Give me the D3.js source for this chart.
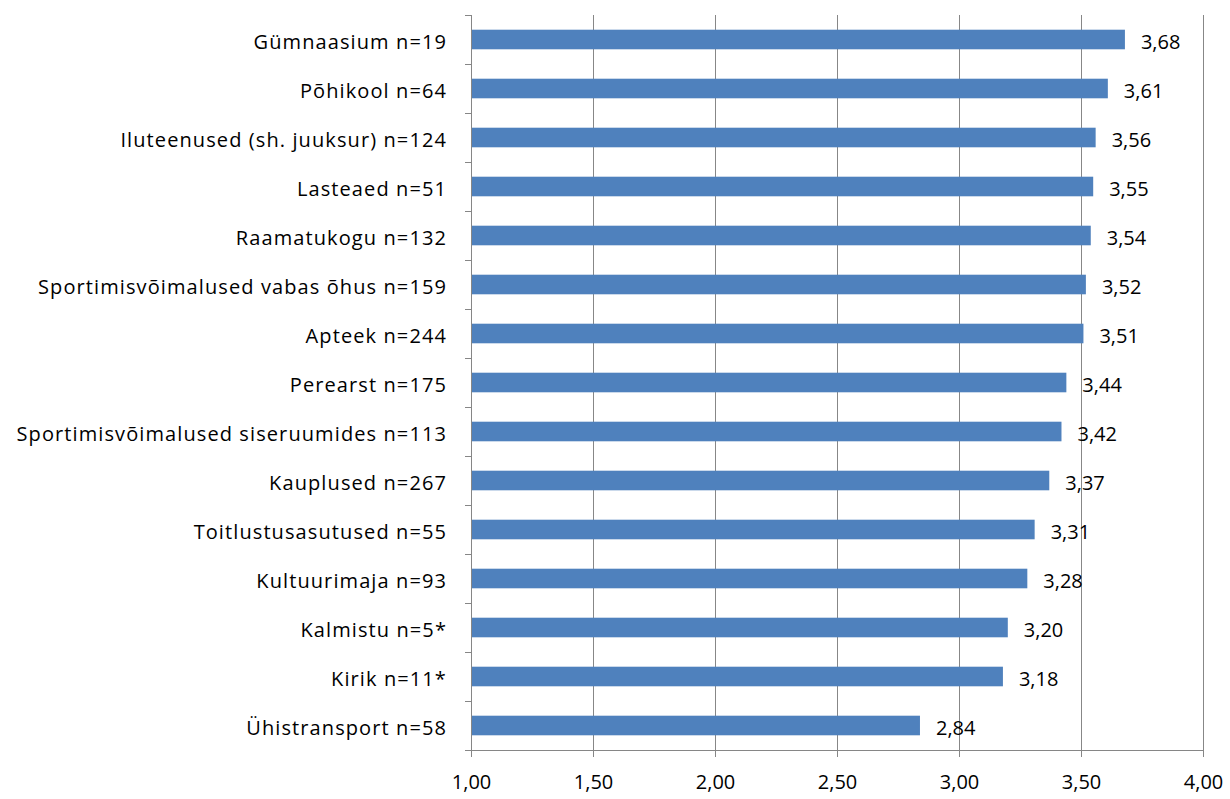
<!DOCTYPE html>
<html lang="et">
<head>
    <meta charset="UTF-8">
    <title>Hinnangud</title>
    <script src="https://d3js.org/d3.v7.min.js"></script>
</head>
<body>

<style>
    body { margin: 0; background: #fff; }
    svg text { font-family: "Open Sans", Lato, sans-serif; fill: #000; }
    .axis path, .axis line { fill: none; stroke: #868686; shape-rendering: crispEdges; }
    .grid line { stroke: #878787; shape-rendering: crispEdges; }
</style>

<script type="text/javascript">

    var categories = ["Gümnaasium n=19", "Põhikool n=64", "Iluteenused (sh. juuksur) n=124",
        "Lasteaed n=51", "Raamatukogu n=132", "Sportimisvõimalused vabas õhus n=159",
        "Apteek n=244", "Perearst n=175", "Sportimisvõimalused siseruumides n=113",
        "Kauplused n=267", "Toitlustusasutused n=55", "Kultuurimaja n=93",
        "Kalmistu n=5*", "Kirik n=11*", "Ühistransport n=58"];

    var values = [3.68, 3.61, 3.56, 3.55, 3.54, 3.52, 3.51, 3.44, 3.42, 3.37, 3.31, 3.28, 3.20, 3.18, 2.84];

    var xTicks = [1, 1.5, 2, 2.5, 3, 3.5, 4];

    var margins = {top: 15, right: 27, bottom: 49, left: 471},
        width = 1230 - margins.left - margins.right,
        height = 799 - margins.top - margins.bottom;

    var fmt = function(v){ return d3.format(".2f")(v).replace(".", ","); };

    var svg = d3.select("body").append("svg")
            .attr("width", 1230)
            .attr("height", 799)
            .append("g")
            .attr("transform", "translate(" + margins.left + "," + margins.top + ")");

    var xScale = d3.scaleLinear().domain([1, 4]).range([0, width]);
    var yScale = d3.scaleBand().domain(categories).range([0, height]).paddingInner(0.6).paddingOuter(0.3);
    var bandScale = d3.scaleBand().domain(categories).range([0, height]);

    // vertical gridlines
    svg.append("g").attr("class", "grid")
        .selectAll("line")
        .data(xTicks.slice(1))
        .enter().append("line")
        .attr("x1", function(d){ return Math.round(xScale(d)) + 0.5; })
        .attr("x2", function(d){ return Math.round(xScale(d)) + 0.5; })
        .attr("y1", 0)
        .attr("y2", height);

    svg.selectAll("rect.bar")
        .data(values).enter()
        .append("rect")
        .attr("class", "bar")
        .attr("x", xScale(1))
        .attr("y", function(d, i){ return yScale(categories[i]); })
        .attr("width", function(d){ return xScale(d) - xScale(1); })
        .attr("height", yScale.bandwidth())
        .style("fill", "#4F81BD");

    svg.selectAll("text.val")
        .data(values).enter()
        .append("text")
        .attr("class", "val")
        .attr("x", function(d){ return xScale(d) + 16; })
        .attr("y", function(d, i){ return yScale(categories[i]) + yScale.bandwidth() / 2 + 2; })
        .attr("dy", "0.35em")
        .style("font-size", "20px")
        .text(function(d){ return fmt(d); });

    // x axis
    var xAxis = d3.axisBottom(xScale).tickValues(xTicks).tickSize(7).tickPadding(18).tickFormat(fmt);
    var gx = svg.append("g")
            .attr("class", "x axis")
            .attr("transform", "translate(0," + height + ")")
            .call(xAxis);
    gx.select(".domain").attr("d", "M0,0.5H" + width);
    gx.selectAll("text").style("font-size", "20px");

    // y axis: ticks at band boundaries
    var gy = svg.append("g").attr("class", "y axis");
    gy.append("line").attr("x1", 0.5).attr("x2", 0.5).attr("y1", 0).attr("y2", height);
    gy.selectAll("line.tk")
        .data(categories.concat(["end"]))
        .enter().append("line")
        .attr("class", "tk")
        .attr("x1", -6).attr("x2", 0)
        .attr("y1", function(d, i){ return Math.round(i * bandScale.step()) + 0.5; })
        .attr("y2", function(d, i){ return Math.round(i * bandScale.step()) + 0.5; });
    gy.selectAll("text")
        .data(categories).enter()
        .append("text")
        .attr("x", -24)
        .attr("y", function(d){ return bandScale(d) + bandScale.bandwidth() / 2 + 2; })
        .attr("dy", "0.35em")
        .attr("text-anchor", "end")
        .style("font-size", "20px")
        .style("letter-spacing", "1.1px")
        .text(function(d){ return d; });

</script>

</body>
</html>
